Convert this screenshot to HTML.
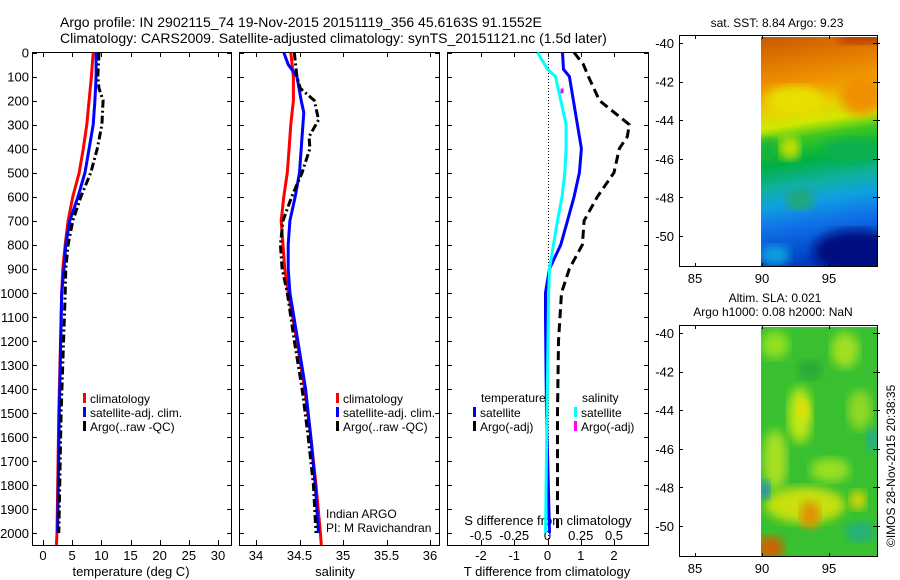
<!DOCTYPE html>
<html><head><meta charset="utf-8">
<style>
html,body{margin:0;padding:0;background:#fff;}
svg{display:block;font-family:"Liberation Sans",sans-serif;}
text{fill:#000;}
</style></head>
<body>
<svg id="chart" width="900" height="580" viewBox="0 0 900 580">
<defs>
<linearGradient id="sstGrad" x1="0" y1="0" x2="0.08" y2="1">
<stop offset="0" stop-color="#c85800"/>
<stop offset="0.12" stop-color="#e07800"/>
<stop offset="0.24" stop-color="#f09800"/>
<stop offset="0.33" stop-color="#e8d000"/>
<stop offset="0.40" stop-color="#d0e800"/>
<stop offset="0.46" stop-color="#40c820"/>
<stop offset="0.56" stop-color="#00b040"/>
<stop offset="0.66" stop-color="#10b0a0"/>
<stop offset="0.74" stop-color="#10a0e0"/>
<stop offset="0.84" stop-color="#1070e8"/>
<stop offset="1" stop-color="#0040c0"/>
</linearGradient>
<filter id="blur4"><feGaussianBlur stdDeviation="5"/></filter>
<clipPath id="clipMap1"><rect x="761" y="37" width="116" height="230"/></clipPath>
<clipPath id="clipMap2"><rect x="761" y="327" width="116" height="230"/></clipPath>
</defs>

<g>
<text x="60" y="27" font-size="14">Argo profile: IN 2902115_74 19-Nov-2015 20151119_356 45.6163S 91.1552E</text>
<text x="60" y="43" font-size="14">Climatology: CARS2009. Satellite-adjusted climatology: synTS_20151121.nc (1.5d later)</text>
</g>

<g id="p1"></g>
<g id="p2"></g>
<g id="p3"></g>

<g>
<text x="777" y="27" font-size="12" text-anchor="middle">sat. SST: 8.84  Argo: 9.23</text>
<g clip-path="url(#clipMap1)">
<rect x="761" y="37" width="116" height="230" fill="url(#sstGrad)"/>
<ellipse cx="795" cy="100" rx="30" ry="14" fill="#e8e000" filter="url(#blur4)"/>
<ellipse cx="862" cy="95" rx="22" ry="20" fill="#f09000" filter="url(#blur4)"/>
<ellipse cx="768" cy="150" rx="8" ry="12" fill="#10b040" filter="url(#blur4)"/>
<ellipse cx="790" cy="148" rx="10" ry="12" fill="#c8e000" filter="url(#blur4)"/>
<ellipse cx="850" cy="150" rx="28" ry="12" fill="#10b050" filter="url(#blur4)"/>
<ellipse cx="855" cy="252" rx="42" ry="22" fill="#000a80" filter="url(#blur4)"/>
<ellipse cx="775" cy="255" rx="15" ry="10" fill="#10a0e0" filter="url(#blur4)"/>
<ellipse cx="800" cy="200" rx="14" ry="10" fill="#20a870" filter="url(#blur4)"/>
<rect x="840" y="30" width="45" height="14" fill="#b84000" filter="url(#blur4)"/>
</g>
<rect x="679.5" y="35.5" width="198" height="231" fill="none" stroke="#000"/>
</g>
<g id="m1axes"></g>

<g>
<text x="775" y="302" font-size="12" text-anchor="middle">Altim. SLA: 0.021</text>
<text x="773" y="316" font-size="12" text-anchor="middle">Argo h1000: 0.08 h2000: NaN</text>
<g clip-path="url(#clipMap2)">
<rect x="761" y="327" width="116" height="230" fill="#38c030"/>
<ellipse cx="800" cy="415" rx="12" ry="28" fill="#c0e818" filter="url(#blur4)"/>
<ellipse cx="803" cy="410" rx="6" ry="10" fill="#e8e000" filter="url(#blur4)"/>
<ellipse cx="775" cy="345" rx="14" ry="14" fill="#90e020" filter="url(#blur4)"/>
<ellipse cx="845" cy="350" rx="14" ry="18" fill="#a0e020" filter="url(#blur4)"/>
<ellipse cx="860" cy="410" rx="12" ry="20" fill="#90d828" filter="url(#blur4)"/>
<ellipse cx="775" cy="460" rx="12" ry="30" fill="#a8e020" filter="url(#blur4)"/>
<ellipse cx="830" cy="470" rx="20" ry="12" fill="#98e020" filter="url(#blur4)"/>
<ellipse cx="805" cy="505" rx="40" ry="18" fill="#c8e010" filter="url(#blur4)"/>
<ellipse cx="810" cy="515" rx="10" ry="14" fill="#e09000" filter="url(#blur4)"/>
<ellipse cx="770" cy="548" rx="14" ry="12" fill="#d06000" filter="url(#blur4)"/>
<ellipse cx="765" cy="490" rx="5" ry="10" fill="#2080e0" filter="url(#blur4)"/>
<ellipse cx="873" cy="440" rx="6" ry="12" fill="#20a8a0" filter="url(#blur4)"/>
<ellipse cx="860" cy="532" rx="15" ry="10" fill="#20b080" filter="url(#blur4)"/>
<ellipse cx="858" cy="500" rx="8" ry="10" fill="#e0d800" filter="url(#blur4)"/>
<ellipse cx="810" cy="370" rx="12" ry="10" fill="#28a838" filter="url(#blur4)"/>
</g>
<rect x="679.5" y="325.5" width="198" height="231" fill="none" stroke="#000"/>
</g>
<g id="m2axes"></g>

<text transform="translate(895,547) rotate(-90)" font-size="12">©IMOS 28-Nov-2015 20:38:35</text>
</svg>

<script>
var depthTicks = [0,100,200,300,400,500,600,700,800,900,1000,1100,1200,1300,1400,1500,1600,1700,1800,1900,2000];
var tempTicks = [0,5,10,15,20,25,30];
var salTicks = [34,34.5,35,35.5,36];
var salTickLabels = ["34","34.5","35","35.5","36"];
var tdiffTicks = [-2,-1,0,1,2];
var sdiffTicks = [-0.5,-0.25,0,0.25,0.5];
var sdiffTickLabels = ["-0.5","-0.25","0","0.25","0.5"];
var lonTicks = [85,90,95];
var latTicks = [-40,-42,-44,-46,-48,-50];

var tClimDepth = [0,100,200,300,400,500,600,700,800,900,1000,1500,2000,2050];
var tClim      = [8.6,8.3,7.9,7.5,6.9,6.2,5.1,4.3,3.8,3.4,3.2,2.7,2.4,2.3];
var tSatDepth  = [0,100,200,300,400,500,600,700,800,900,1000,1500,2000];
var tSat       = [9.1,9.1,8.9,8.6,7.9,7.2,6.0,4.6,3.9,3.6,3.2,2.8,2.5];
var tArgoDepth = [0,100,150,200,300,400,500,600,700,800,900,1000,1500,2000];
var tArgo      = [9.6,9.4,9.6,10.3,10.1,9.3,8.2,6.5,5.1,4.3,3.9,3.8,3.1,2.7];

var sClimDepth = [0,100,200,300,400,500,600,700,800,900,1000,1200,1400,1600,1800,2000,2050];
var sClim      = [34.40,34.43,34.43,34.40,34.38,34.36,34.32,34.29,34.31,34.33,34.37,34.47,34.56,34.63,34.69,34.74,34.75];
var sSatDepth  = [0,50,100,200,250,400,500,600,700,800,900,1000,1200,1400,1600,1800,2000];
var sSat       = [34.32,34.37,34.47,34.52,34.55,34.52,34.50,34.45,34.39,34.37,34.37,34.39,34.48,34.57,34.63,34.68,34.72];
var sArgoDepth = [0,100,150,200,280,350,400,500,600,700,800,900,1000,1200,1400,1600,1800,2000];
var sArgo      = [34.44,34.47,34.51,34.67,34.72,34.61,34.62,34.53,34.41,34.31,34.28,34.30,34.36,34.44,34.53,34.60,34.66,34.69];

var dTSatDepth = [0,70,100,200,300,400,500,600,700,800,900,1000,1100,1500,2000];
var dTSat      = [0.45,0.48,0.66,0.78,0.9,1.02,0.96,0.8,0.6,0.4,0.06,-0.06,-0.06,-0.03,0.06];
var dSSatDepth = [0,70,100,200,300,400,500,600,700,800,900,1000,1500,2000];
var dSSat      = [-0.075,0,0.06,0.1,0.14,0.14,0.13,0.11,0.075,0.045,0.015,0.008,-0.004,-0.015];
var dTArgoDepth= [0,50,100,200,300,350,400,500,600,700,800,900,1000,1200,1500,2000];
var dTArgo     = [0.8,1.08,1.23,1.56,2.46,2.4,2.16,2.0,1.5,1.1,1.05,0.66,0.42,0.33,0.3,0.3];
var dSArgoDepth= [150,170];
var dSArgo     = [0.11,0.11];

var NS = "http://www.w3.org/2000/svg";
function mk(tag, attrs, parent){ var e=document.createElementNS(NS,tag); for(var k in attrs) e.setAttribute(k,attrs[k]); parent.appendChild(e); return e; }
function lin(d0,d1,r0,r1){ return function(v){ return r0+(v-d0)*(r1-r0)/(d1-d0); }; }
var yDepth = lin(0,2000,52.5,533);
var PT=52, PB=545;

function frame(g,x0,x1){
  var r=mk('rect',{x:x0+0.5,y:PT+0.5,width:x1-x0,height:PB-PT,fill:'none',stroke:'#000'},g);
  
  
  depthTicks.forEach(function(d){
    var y=Math.round(yDepth(d))+0.5;
    mk('line',{x1:x0,x2:x0+5,y1:y,y2:y,stroke:'#000'},g);
    mk('line',{x1:x1-4,x2:x1,y1:y,y2:y,stroke:'#000'},g);
  });
}
function xTicks(g,ticks,labels,xs,y,top){
  ticks.forEach(function(t,i){
    var x=Math.round(xs(t))+0.5;
    mk('line',{x1:x,x2:x,y1:PB-5,y2:PB,stroke:'#000'},g);
    if(top) mk('line',{x1:x,x2:x,y1:PT,y2:PT+5,stroke:'#000'},g);
    var t2=mk('text',{x:xs(t),y:y,'font-size':13,'text-anchor':'middle'},g);
    t2.textContent=labels?labels[i]:String(t);
    
    
  });
}
function line(g,vals,depths,xs,color,w,dash,name){
  var pts=vals.map(function(v,i){return xs(v).toFixed(1)+','+yDepth(depths[i]).toFixed(1);}).join(' ');
  var a={points:pts,fill:'none',stroke:color,'stroke-width':w};
  if(dash) a['stroke-dasharray']=dash;
  var p=mk('polyline',a,g);
  
  
}
function legend(g,x,y,items){
  items.forEach(function(it,i){
    var yy=y+i*14;
    mk('rect',{x:x,y:yy-6,width:3,height:10,fill:it[0]},g);
    var t=mk('text',{x:x+7,y:yy+4,'font-size':12},g);
    t.textContent=it[1];
    
    
  });
}
function text(g,x,y,s,anchor,name,size){
  var t=mk('text',{x:x,y:y,'font-size':size||13,'text-anchor':anchor||'start'},g);
  t.textContent=s;
  
  
  return t;
}

var g1=document.getElementById('p1');
var xT=lin(0,30,43,218);
frame(g1,32,231);
depthTicks.forEach(function(d){ text(g1,29,yDepth(d)+5,String(d),'end','y-tick-label'); });
xTicks(g1,tempTicks,null,xT,560,true);
text(g1,131,576,'temperature (deg C)','middle','x-axis-title');
line(g1,tClim,tClimDepth,xT,'#ff0000',3,null,'temp-climatology-line');
line(g1,tSat,tSatDepth,xT,'#0000ff',3,null,'temp-satellite-line');
line(g1,tArgo,tArgoDepth,xT,'#000000',3,'8,3,2,3','temp-argo-line');
legend(g1,83,399,[['#ff0000','climatology'],['#0000ff','satellite-adj. clim.'],['#000000','Argo(..raw -QC)']]);

var g2=document.getElementById('p2');
var xS=lin(34,36,256,430);
frame(g2,239,439);
xTicks(g2,salTicks,salTickLabels,xS,560,true);
text(g2,335,576,'salinity','middle','x-axis-title');
line(g2,sClim,sClimDepth,xS,'#ff0000',3,null,'sal-climatology-line');
line(g2,sSat,sSatDepth,xS,'#0000ff',3,null,'sal-satellite-line');
line(g2,sArgo,sArgoDepth,xS,'#000000',3,'8,3,2,3','sal-argo-line');
legend(g2,336,399,[['#ff0000','climatology'],['#0000ff','satellite-adj. clim.'],['#000000','Argo(..raw -QC)']]);
text(g2,326,518,'Indian ARGO','start','float-operator',12);
text(g2,326,532,'PI: M Ravichandran','start','float-pi',12);

var g3=document.getElementById('p3');
var xDT=lin(-2,2,481,614);
var xDS=lin(-0.5,0.5,481,614);
frame(g3,447,648);
var z=Math.round(xDT(0))+0.5;
mk('line',{x1:z,x2:z,y1:PT,y2:PB,stroke:'#000','stroke-dasharray':'1,2'},g3);
xTicks(g3,tdiffTicks,null,xDT,560,true);
text(g3,547,576,'T difference from climatology','middle','x-axis-title');
sdiffTicks.forEach(function(t,i){ text(g3,xDS(t),540,sdiffTickLabels[i],'middle','s-diff-tick-label'); });
text(g3,548,525,'S difference from climatology','middle','s-diff-axis-title');
line(g3,dTArgo,dTArgoDepth,xDT,'#000000',3,'9,5','tdiff-argo-line');
line(g3,dTSat,dTSatDepth,xDT,'#0000ff',3,null,'tdiff-satellite-line');
line(g3,dSSat,dSSatDepth,xDS,'#00ffff',3,null,'sdiff-satellite-line');
line(g3,dSArgo,dSArgoDepth,xDS,'#ff00ff',3,null,'sdiff-argo-line');
text(g3,481,402,'temperature','start','legend-heading',12);
text(g3,582,402,'salinity','start','legend-heading',12);
legend(g3,473,413,[['#0000ff','satellite'],['#000000','Argo(-adj)']]);
legend(g3,574,413,[['#00ffff','satellite'],['#ff00ff','Argo(-adj)']]);

function mapAxes(id,top,bottom,latTop){
  var g=document.getElementById(id);
  var xL=lin(85,95,695,829);
  var yL=lin(-40,-50,latTop,latTop+193);
  lonTicks.forEach(function(v){
    var x=Math.round(xL(v))+0.5;
    mk('line',{x1:x,x2:x,y1:top,y2:top+4,stroke:'#000'},g);
    mk('line',{x1:x,x2:x,y1:bottom-4,y2:bottom,stroke:'#000'},g);
    text(g,xL(v),bottom+16,String(v),'middle','lon-tick-label');
  });
  latTicks.forEach(function(v){
    var y=Math.round(yL(v))+0.5;
    mk('line',{x1:679,x2:683,y1:y,y2:y,stroke:'#000'},g);
    mk('line',{x1:873,x2:880,y1:y,y2:y,stroke:'#000'},g);
    text(g,674,yL(v)+5,String(v),'end','lat-tick-label');
  });
}
mapAxes('m1axes',35,267,43);
mapAxes('m2axes',325,557,333);
</script>
</body></html>
